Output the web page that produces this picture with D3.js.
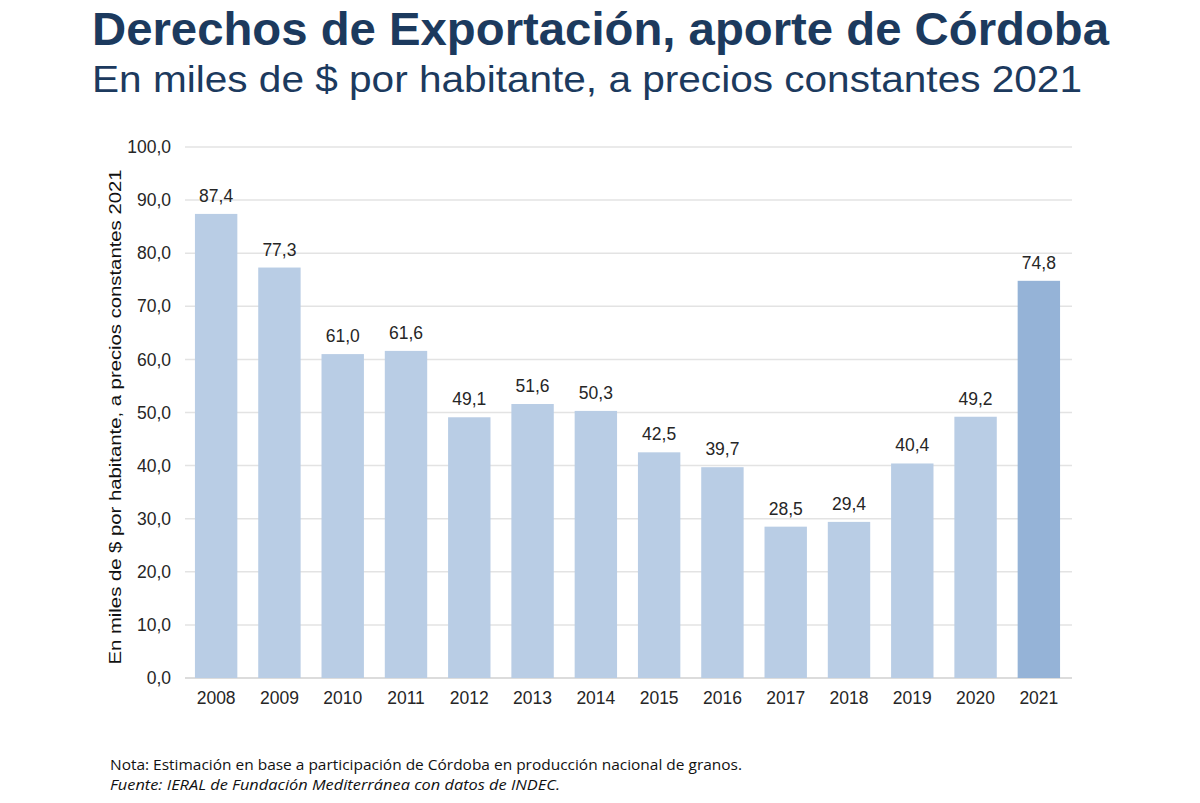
<!DOCTYPE html>
<html>
<head>
<meta charset="utf-8">
<script src="https://cdn.jsdelivr.net/npm/d3@7"></script>
<style>
  body { margin: 0; background: #fff; }
  svg text { font-family: "Liberation Sans", Arial, sans-serif; }
</style>
</head>
<body>
<div id="chart"></div>
<script>
// data
const years = ["2008", "2009", "2010", "2011", "2012", "2013", "2014",
               "2015", "2016", "2017", "2018", "2019", "2020", "2021"];
const values = [87.4, 77.3, 61.0, 61.6, 49.1, 51.6, 50.3,
                42.5, 39.7, 28.5, 29.4, 40.4, 49.2, 74.8];
const yTicks = [0, 10, 20, 30, 40, 50, 60, 70, 80, 90, 100];

const W = 1200, H = 803;
const fmt = v => v.toFixed(1).replace(".", ",");

const svg = d3.select("#chart").append("svg")
  .attr("width", W).attr("height", H);

// titles
svg.append("text")
  .attr("x", 92).attr("y", 45)
  .attr("font-size", 46).attr("font-weight", "bold")
  .attr("fill", "#1c3a5e")
  .attr("textLength", 1017).attr("lengthAdjust", "spacingAndGlyphs")
  .text("Derechos de Exportación, aporte de Córdoba");

svg.append("text")
  .attr("x", 92).attr("y", 92)
  .attr("font-size", 36)
  .attr("fill", "#1c3a5e")
  .attr("textLength", 990).attr("lengthAdjust", "spacingAndGlyphs")
  .text("En miles de $ por habitante, a precios constantes 2021");

// scales
const x = d3.scaleBand()
  .domain(years)
  .range([184.5, 1070.5])
  .paddingInner(0.33)
  .paddingOuter(0.165);

const y = d3.scaleLinear()
  .domain([0, 100])
  .range([678, 147]);

// gridlines
svg.append("g")
  .selectAll("line")
  .data(yTicks)
  .join("line")
  .attr("x1", 185).attr("x2", 1072)
  .attr("y1", d => y(d)).attr("y2", d => y(d))
  .attr("stroke", d => d === 0 ? "#d0d0d0" : "#e3e3e3")
  .attr("stroke-width", 1.5);

// y axis labels
const yAxis = svg.append("g")
  .attr("transform", "translate(171,0)")
  .call(d3.axisLeft(y).tickValues(yTicks).tickFormat(fmt).tickSize(0).tickPadding(0));
yAxis.select(".domain").remove();
yAxis.selectAll("text")
  .attr("font-size", 17.5).attr("fill", "#262626")
  .attr("font-family", "Liberation Sans, Arial, sans-serif");

// x axis labels
const xAxis = svg.append("g")
  .attr("transform", "translate(0,692)")
  .call(d3.axisBottom(x).tickSize(0).tickPadding(0));
xAxis.select(".domain").remove();
xAxis.selectAll("text")
  .attr("font-size", 17.5).attr("fill", "#262626")
  .attr("font-family", "Liberation Sans, Arial, sans-serif");

// bars
svg.append("g")
  .selectAll("rect")
  .data(years)
  .join("rect")
  .attr("x", d => x(d))
  .attr("width", x.bandwidth())
  .attr("y", (d, i) => y(values[i]))
  .attr("height", (d, i) => y(0) - y(values[i]))
  .attr("fill", d => d === "2021" ? "#95b3d7" : "#b9cde5");

// value labels
svg.append("g")
  .selectAll("text")
  .data(years)
  .join("text")
  .attr("x", d => x(d) + x.bandwidth() / 2)
  .attr("y", (d, i) => y(values[i]) - 12)
  .attr("text-anchor", "middle")
  .attr("font-size", 17.5).attr("fill", "#262626")
  .text((d, i) => fmt(values[i]));

// y axis title
svg.append("text")
  .attr("transform", "translate(121,417) rotate(-90)")
  .attr("text-anchor", "middle")
  .attr("font-size", 17).attr("fill", "#111")
  .attr("textLength", 495).attr("lengthAdjust", "spacingAndGlyphs")
  .text("En miles de $ por habitante, a precios constantes 2021");

// notes
svg.append("text")
  .attr("x", 110).attr("y", 770)
  .attr("font-size", 14).attr("fill", "#111")
  .attr("textLength", 632).attr("lengthAdjust", "spacingAndGlyphs")
  .style("font-family", "'Open Sans', sans-serif")
  .text("Nota: Estimación en base a participación de Córdoba en producción nacional de granos.");

svg.append("text")
  .attr("x", 110).attr("y", 790)
  .attr("font-size", 14).attr("fill", "#111")
  .attr("font-style", "italic")
  .attr("textLength", 450).attr("lengthAdjust", "spacingAndGlyphs")
  .style("font-family", "'Open Sans', sans-serif")
  .text("Fuente: IERAL de Fundación Mediterránea con datos de INDEC.");
</script>
</body>
</html>
